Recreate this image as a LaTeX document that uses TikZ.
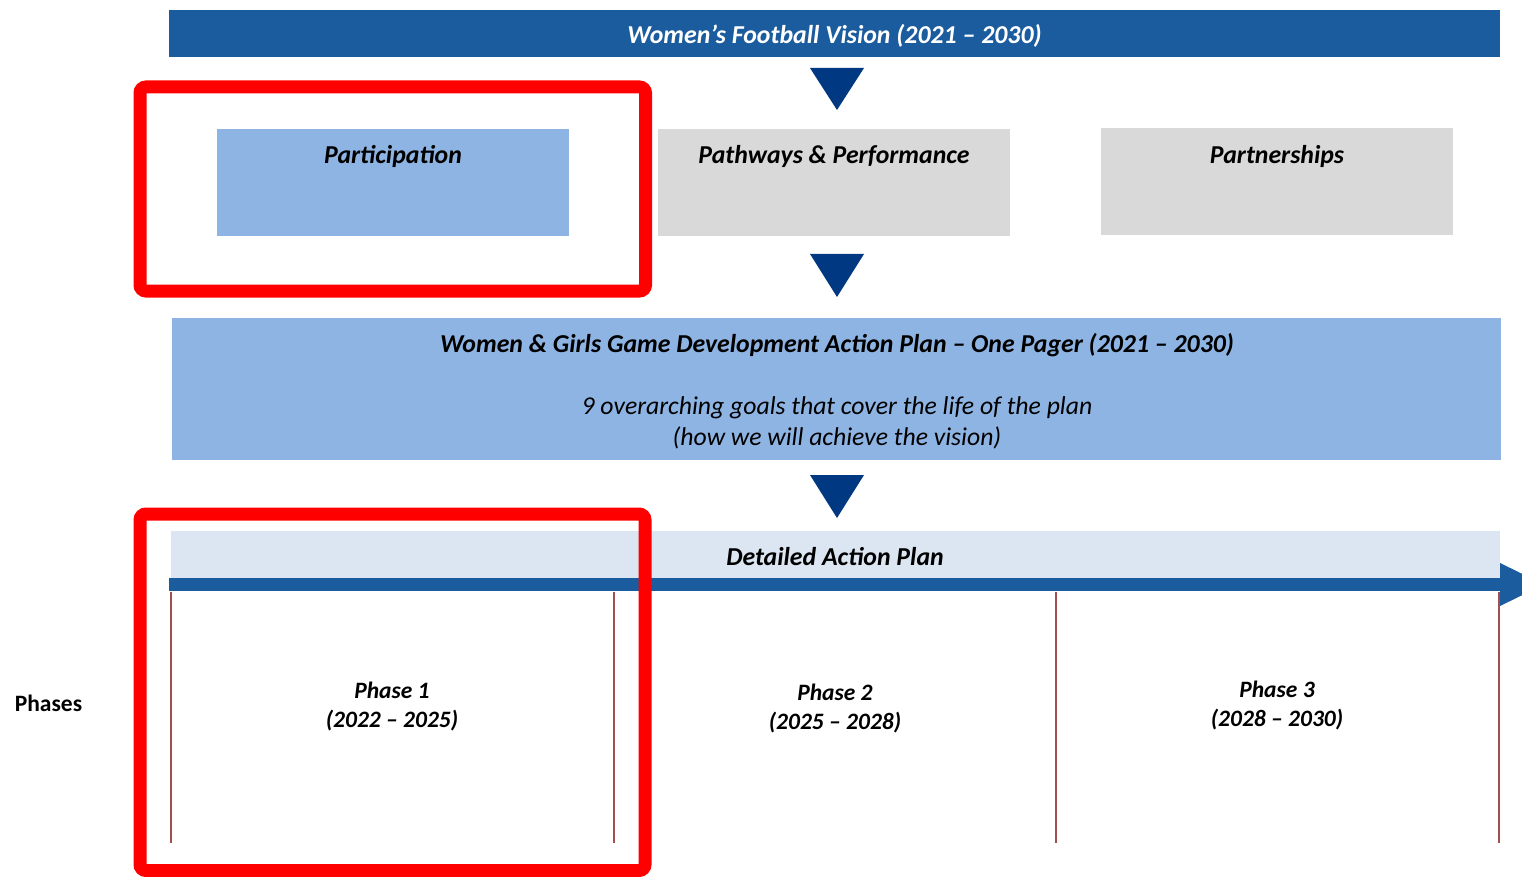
\documentclass[tikz,border=0pt]{standalone}
\usepackage{fontspec}
\setmainfont{Carlito}
\usetikzlibrary{calc}
\definecolor{banner}{RGB}{27,92,158}
\definecolor{tri}{RGB}{0,56,130}
\definecolor{midblue}{RGB}{142,180,227}
\definecolor{lgray}{RGB}{217,217,217}
\definecolor{pale}{RGB}{220,230,242}
\definecolor{phline}{RGB}{160,80,78}
\definecolor{hired}{RGB}{255,0,0}
\tikzset{
  bi/.style={font=\fontsize{25.8}{30}\selectfont\bfseries\itshape},
  phtext/.style={font=\fontsize{23.5}{29}\selectfont\bfseries\itshape, align=center},
  pillar/.style={draw=none, minimum width=352pt, minimum height=107pt, inner sep=0pt},
  downtri/.style={fill=tri, draw=none},
  hilite/.style={draw=hired, line width=13pt, rounded corners=6pt},
  phaseline/.style={draw=phline, line width=1.6pt},
}
\begin{document}
\begin{tikzpicture}[x=1pt,y=-1pt]
\useasboundingbox (0,0) rectangle (1522,877);
% top banner
\node[fill=banner, minimum width=1331pt, minimum height=47pt, inner sep=0pt] (vision) at (834.5,33.5) {};
\node[bi, text=white] (visiontext) at (834.5,36) {Women’s Football Vision (2021 – 2030)};
% triangle 1
\fill[downtri] (810,68) -- (864,68) -- (837,110) -- cycle;
% pillars
\node[pillar, fill=midblue] (part) at (393,182.5) {};
\node[bi] (parttext) at (393,156) {Participation};
\node[pillar, fill=lgray] (path) at (834,182.5) {};
\node[bi] (pathtext) at (834,156) {Pathways \& Performance};
\node[pillar, fill=lgray] (partner) at (1277,182) {};
\node[bi] (partnertext) at (1277,156) {Partnerships};
% triangle 2
\fill[downtri] (810,254) -- (864,254) -- (837,297) -- cycle;
% big plan box
\node[fill=midblue, minimum width=1329pt, minimum height=142pt, inner sep=0pt] (plan) at (836.5,389) {};
\node[bi] (plantitle) at (837,345) {Women \& Girls Game Development Action Plan – One Pager (2021 – 2030)};
\node[font=\fontsize{25.7}{31}\selectfont\itshape, align=center] (plangoals) at (837,422.5) {9 overarching goals that cover the life of the plan\\(how we will achieve the vision)};
% triangle 3
\fill[downtri] (810,475) -- (864,475) -- (837,518) -- cycle;
% detailed band
\node[fill=pale, minimum width=1329pt, minimum height=47pt, inner sep=0pt] (band) at (835.5,554.5) {};
\node[bi] (bandtext) at (835,557) {Detailed Action Plan};
% timeline arrow
\coordinate (tl0) at (169,584.5);
\coordinate (tl1) at (1500,584.5);
\fill[banner] (169,578) rectangle (1500,591);
\fill[banner] (1500,563) -- (1544,584.5) -- (1500,606) -- cycle;
% phase lines
\foreach \x/\n in {171/a,614/b,1056/c,1499/d}{
  \coordinate (top\n) at (\x,592);
  \coordinate (bot\n) at (\x,843);
  \draw[phaseline] (top\n) -- (bot\n);
}
% phase labels
\node[font=\fontsize{23.5}{28}\selectfont\bfseries] (phases) at (48.5,703.5) {Phases};
\node[phtext] (ph1) at (392,707) {Phase 1\\(2022 – 2025)};
\node[phtext] (ph2) at (835,709) {Phase 2\\(2025 – 2028)};
\node[phtext] (ph3) at (1277,706) {Phase 3\\(2028 – 2030)};
% highlight rectangles
\draw[hilite] (140,87) rectangle (645.5,291);
\draw[hilite] (140,514) rectangle (645,870.5);
\end{tikzpicture}
\end{document}
